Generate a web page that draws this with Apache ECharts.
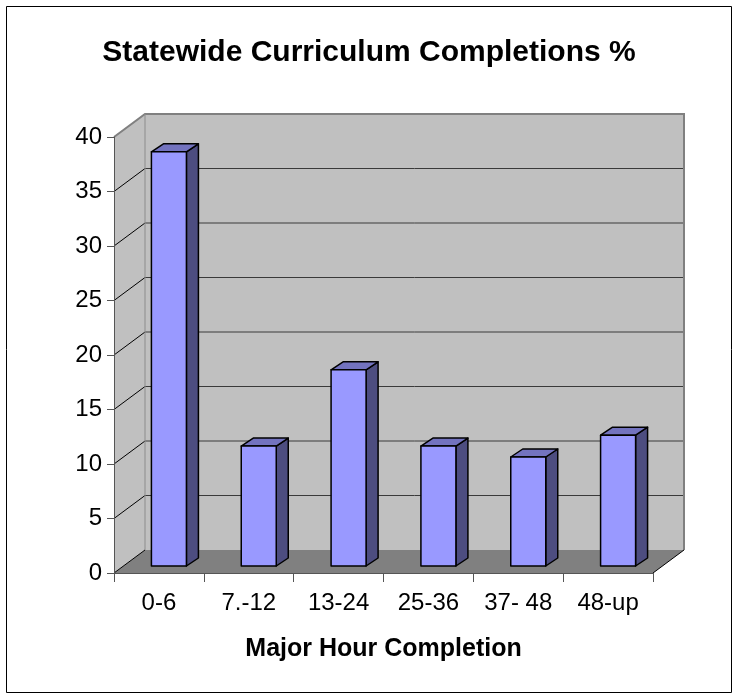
<!DOCTYPE html>
<html>
<head>
<meta charset="utf-8">
<script src="https://cdn.jsdelivr.net/npm/echarts@6/dist/echarts.min.js"></script>
<style>
  html, body { margin: 0; padding: 0; background: #fff; }
  #chart { width: 738px; height: 700px; }
</style>
</head>
<body>
<div id="chart"></div>
<script>
// data
const categories = ["0-6", "7.-12", "13-24", "25-36", "37- 48", "48-up"];
const completions = [38, 11, 18, 11, 10, 12];
const yTicks = [0, 5, 10, 15, 20, 25, 30, 35, 40];

const FONT = "Liberation Sans, Arial, sans-serif";
// depth of the 3d box
const DX = 31, DY = -23;
// bar sits a bit behind the front plane
const BAR_OFF_X = 10, BAR_OFF_Y = -7;
const BAR_W = 35, BAR_DX = 12, BAR_DY = -8;

const myChart = echarts.init(document.getElementById("chart"));

// walls, floor and back grid
function renderWalls(params, api) {
  const cs = params.coordSys;
  const L = cs.x, R = cs.x + cs.width, T = cs.y, B = cs.y + cs.height;
  const kids = [
    {
      type: "polygon",
      shape: { points: [[L + DX, T + DY], [R + DX, T + DY], [R + DX, B + DY], [L + DX, B + DY]] },
      style: { fill: "#c0c0c0" },
    },
    {
      type: "polygon",
      shape: { points: [[L, T], [L + DX, T + DY], [L + DX, B + DY], [L, B]] },
      style: { fill: "#c0c0c0" },
    },
    {
      type: "polygon",
      shape: { points: [[L, B], [L + DX, B + DY], [R + DX, B + DY], [R, B]] },
      style: { fill: "#808080" },
    },
  ];
  yTicks.forEach(function (t) {
    if (t === 0 || t === yTicks[yTicks.length - 1]) return;
    const y = api.coord([0, t])[1];
    kids.push({
      type: "line",
      shape: { x1: L + DX, y1: y + DY, x2: R + DX, y2: y + DY },
      style: { stroke: "#3a3a3a", lineWidth: 1 },
    });
    kids.push({
      type: "line",
      shape: { x1: L, y1: y, x2: L + DX, y2: y + DY },
      style: { stroke: "#000", lineWidth: 1 },
    });
  });
  // edges
  kids.push({
    type: "polyline",
    shape: { points: [[L, T], [L + DX, T + DY], [R + DX, T + DY], [R + DX, B + DY]] },
    style: { stroke: "#808080", lineWidth: 2, fill: null },
  });
  kids.push({
    type: "line",
    shape: { x1: L + DX, y1: T + DY, x2: L + DX, y2: B + DY },
    style: { stroke: "#8c8c8c", lineWidth: 1 },
  });
  kids.push({
    type: "line",
    shape: { x1: R, y1: B, x2: R + DX, y2: B + DY },
    style: { stroke: "#000", lineWidth: 1 },
  });
  kids.push({
    type: "line",
    shape: { x1: L, y1: B, x2: L + DX, y2: B + DY },
    style: { stroke: "#000", lineWidth: 1 },
  });
  return { type: "group", children: kids };
}

// 3d column
function renderBar(params, api) {
  const idx = api.value(0);
  const base = api.coord([idx, 0]);
  const top = api.coord([idx, api.value(1)]);
  const x0 = base[0] + BAR_OFF_X - BAR_W / 2;
  const x1 = x0 + BAR_W;
  const yb = base[1] + BAR_OFF_Y;
  const yt = top[1] + BAR_OFF_Y;
  const edge = { stroke: "#000", lineWidth: 1.5, lineJoin: "round" };
  return {
    type: "group",
    children: [
      {
        type: "polygon",
        shape: { points: [[x1, yt], [x1 + BAR_DX, yt + BAR_DY], [x1 + BAR_DX, yb + BAR_DY], [x1, yb]] },
        style: Object.assign({ fill: "#4d4d80" }, edge),
      },
      {
        type: "polygon",
        shape: { points: [[x0, yt], [x0 + BAR_DX, yt + BAR_DY], [x1 + BAR_DX, yt + BAR_DY], [x1, yt]] },
        style: Object.assign({ fill: "#7373bf" }, edge),
      },
      {
        type: "rect",
        shape: { x: x0, y: yt, width: BAR_W, height: yb - yt },
        style: Object.assign({ fill: "#9999ff" }, edge),
      },
    ],
  };
}

myChart.setOption({
  animation: false,
  backgroundColor: "#fff",
  title: {
    text: "Statewide Curriculum Completions %",
    left: "center",
    top: 33,
    textStyle: { fontFamily: FONT, fontSize: 30, fontWeight: "bold", color: "#000" },
  },
  graphic: [
    {
      type: "rect",
      shape: { x: 6.5, y: 6.5, width: 725, height: 686 },
      style: { fill: null, stroke: "#000", lineWidth: 1 },
      z: 100,
    },
  ],
  grid: { left: 114, right: 85, top: 137, bottom: 127 },
  xAxis: {
    type: "category",
    data: categories,
    z: 10,
    name: "Major Hour Completion",
    nameLocation: "middle",
    nameGap: 64,
    nameTextStyle: { fontFamily: FONT, fontSize: 25, fontWeight: "bold", color: "#000" },
    axisLine: { show: true, lineStyle: { color: "#555", width: 1 } },
    axisTick: { show: true, length: 9, lineStyle: { color: "#555" } },
    axisLabel: { fontFamily: FONT, fontSize: 24, color: "#000", margin: 18, interval: 0 },
    splitLine: { show: false },
  },
  yAxis: {
    type: "value",
    min: 0,
    max: 40,
    interval: 5,
    z: 10,
    axisLine: { show: true, lineStyle: { color: "#555", width: 1 } },
    axisTick: { show: true, length: 7, lineStyle: { color: "#555" } },
    axisLabel: { fontFamily: FONT, fontSize: 24, color: "#000", margin: 12 },
    splitLine: { show: false },
  },
  series: [
    {
      type: "custom",
      name: "walls",
      renderItem: renderWalls,
      data: [[0, 0]],
      z: 1,
      silent: true,
    },
    {
      type: "custom",
      name: "Completions",
      renderItem: renderBar,
      data: completions.map(function (v, i) { return [i, v]; }),
      encode: { x: 0, y: 1 },
      z: 3,
    },
  ],
});
</script>
</body>
</html>
